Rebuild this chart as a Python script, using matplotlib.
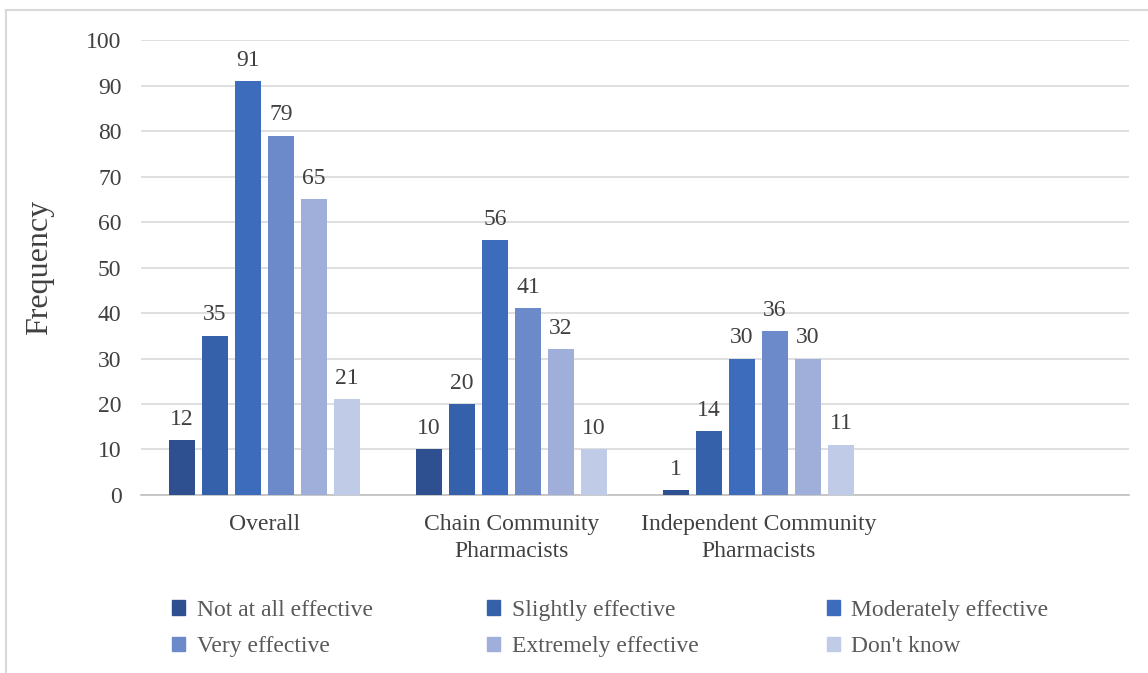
import matplotlib.pyplot as plt
from matplotlib.lines import Line2D
import numpy as np

plt.rcParams['font.family'] = ['Liberation Serif', 'DejaVu Serif']

# categories (fourth slot is empty in the original)
categories = ["Overall", "Chain Community\nPharmacists", "Independent Community\nPharmacists", ""]
series_names = ["Not at all effective", "Slightly effective", "Moderately effective",
                "Very effective", "Extremely effective", "Don't know"]
not_at_all = [12, 10, 1, None]
slightly = [35, 20, 14, None]
moderately = [91, 56, 30, None]
very = [79, 41, 36, None]
extremely = [65, 32, 30, None]
dont_know = [21, 10, 11, None]
series = [not_at_all, slightly, moderately, very, extremely, dont_know]
colors = ["#2E5090", "#3560AA", "#3E6CBD", "#6C89C9", "#9FAFD9", "#C0CBE7"]

fig = plt.figure(figsize=(11.48, 6.73), dpi=100)
ax = fig.add_axes([0.1228, 0.2645, 0.8606, 0.676])

x = np.arange(len(categories))
step = 0.134
width = 0.106
txt = "#404040"
for k, (vals, col) in enumerate(zip(series, colors)):
    xs = [x[i] + (k - 2.5) * step for i in range(len(vals)) if vals[i] is not None]
    ys = [v for v in vals if v is not None]
    ax.bar(xs, ys, width=width, color=col, zorder=3)
    for xb, yb in zip(xs, ys):
        ax.text(xb, yb + 2.3, str(yb), ha='center', va='bottom', fontsize=17, color=txt)

ax.set_xlim(-0.5, len(categories) - 0.5)
ax.set_ylim(0, 100)
ax.set_yticks(range(0, 101, 10))
ax.set_xticks(x)
ax.set_xticklabels(categories, fontsize=17, color=txt, linespacing=1.42)
ax.tick_params(axis='y', labelsize=17, labelcolor=txt, length=0, pad=14)
ax.tick_params(axis='x', length=0, pad=13.5)
ax.grid(axis='y', color='#D9D9D9', linewidth=1.2, zorder=0)
for s in ['top', 'right', 'left']:
    ax.spines[s].set_visible(False)
ax.spines['bottom'].set_color('#BFBFBF')
ax.spines['bottom'].set_linewidth(1.2)
ax.set_ylabel("Frequency", fontsize=23, color=txt, labelpad=23)

# legend: three columns, each its own legend so the columns sit where Excel put them
col_x = [0.150, 0.424, 0.720]
for c in range(3):
    idx = [c, c + 3]
    handles = [plt.Rectangle((0, 0), 1, 1, color=colors[i]) for i in idx]
    leg = fig.legend(handles, [series_names[i] for i in idx], loc='center left',
                     bbox_to_anchor=(col_x[c], 0.066), ncol=1, frameon=False, fontsize=17,
                     handlelength=0.55, handleheight=0.55, handletextpad=0.5,
                     labelspacing=0.65, borderaxespad=0, borderpad=0)
    for t in leg.get_texts():
        t.set_color('#595959')

# outer chart border (left and top visible)
fig.add_artist(Line2D([0.0055, 0.0055], [0, 0.985], color='#D9D9D9', linewidth=1.5))
fig.add_artist(Line2D([0.0055, 1.0], [0.985, 0.985], color='#D9D9D9', linewidth=1.5))

fig.savefig("out.png", dpi=100)
